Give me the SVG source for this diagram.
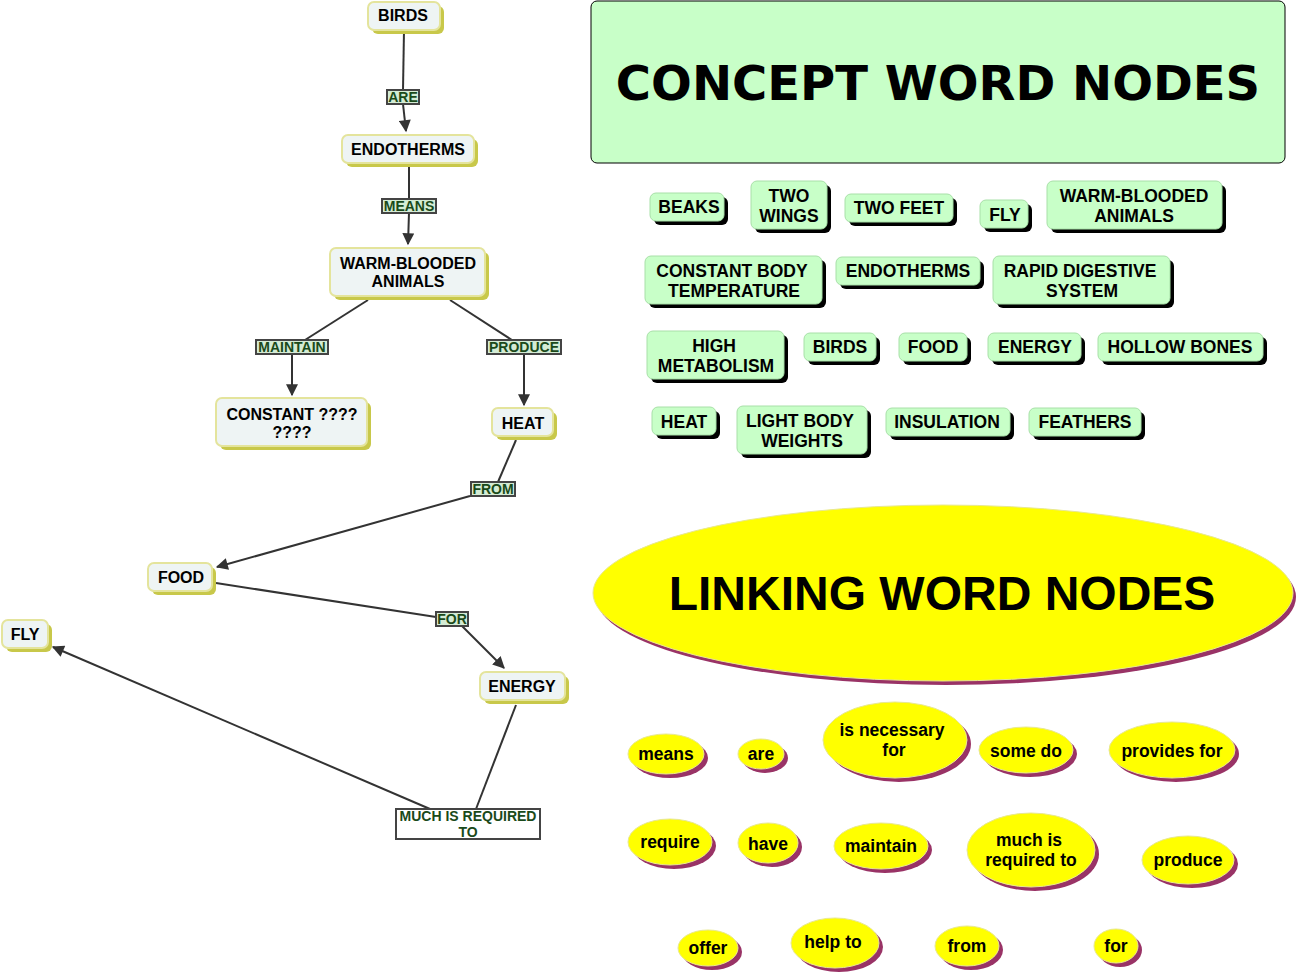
<svg xmlns="http://www.w3.org/2000/svg" width="1296" height="973" viewBox="0 0 1296 973">
<style>
.t{font-family:"Liberation Sans",Arial,sans-serif;font-weight:bold;fill:#000;text-anchor:middle}
.c{fill:#eef4f4;stroke:#e4e49c;stroke-width:2}
.cs{fill:#c8c84a}
.g{fill:#c8ffc8;stroke:#a8e0a8;stroke-width:1}
.gs{fill:#000}
.e{fill:#ffff00;stroke:#e8e890;stroke-width:1}
.es{fill:#993366}
.lb{fill:#d4ecd4;stroke:#444;stroke-width:2}
.lt{font-family:"Liberation Sans",Arial,sans-serif;font-weight:bold;fill:#1a4a1a;text-anchor:middle;font-size:14px}
.ln{stroke:#333;stroke-width:2;fill:none}
</style>
<defs>
<marker id="ar" viewBox="0 0 10 10" refX="9" refY="5" markerWidth="13" markerHeight="12" orient="auto" markerUnits="userSpaceOnUse">
<path d="M0,0 L10,5 L0,10 z" fill="#333"/>
</marker>
</defs>
<rect width="1296" height="973" fill="#fff"/>

<g id="connectors">
<line class="ln" x1="404" y1="30" x2="403" y2="90"/>
<line class="ln" x1="403" y1="104" x2="406" y2="131" marker-end="url(#ar)"/>
<line class="ln" x1="409" y1="163" x2="409" y2="199"/>
<line class="ln" x1="409" y1="213" x2="408" y2="244" marker-end="url(#ar)"/>
<line class="ln" x1="368" y1="300" x2="305" y2="340"/>
<line class="ln" x1="292" y1="354" x2="292" y2="395" marker-end="url(#ar)"/>
<line class="ln" x1="450" y1="300" x2="512" y2="340"/>
<line class="ln" x1="524" y1="354" x2="524" y2="405" marker-end="url(#ar)"/>
<line class="ln" x1="516" y1="440" x2="498" y2="482"/>
<line class="ln" x1="470" y1="496" x2="217" y2="567" marker-end="url(#ar)"/>
<line class="ln" x1="216" y1="583" x2="436" y2="617"/>
<line class="ln" x1="462" y1="626" x2="504" y2="668" marker-end="url(#ar)"/>
<line class="ln" x1="516" y1="705" x2="476" y2="809"/>
<line class="ln" x1="430" y1="809" x2="53" y2="647" marker-end="url(#ar)"/>
</g>

<g id="lbl-are"><rect class="lb" x="387" y="90" width="32" height="14"/><text class="lt" x="403" y="102">ARE</text></g>
<g id="lbl-means"><rect class="lb" x="382" y="199" width="54" height="14"/><text class="lt" x="409" y="211">MEANS</text></g>
<g id="lbl-maintain"><rect class="lb" x="256" y="340" width="72" height="14"/><text class="lt" x="292" y="352">MAINTAIN</text></g>
<g id="lbl-produce"><rect class="lb" x="487" y="340" width="74" height="14"/><text class="lt" x="524" y="352">PRODUCE</text></g>
<g id="lbl-from"><rect class="lb" x="471" y="482" width="44" height="14"/><text class="lt" x="493" y="494">FROM</text></g>
<g id="lbl-for"><rect class="lb" x="436" y="612" width="32" height="14"/><text class="lt" x="452" y="624">FOR</text></g>
<g id="lbl-much"><rect x="396" y="809" width="144" height="30" fill="#fff" stroke="#444" stroke-width="2"/><text class="lt" x="468" y="821">MUCH IS REQUIRED</text><text class="lt" x="468" y="837">TO</text></g>

<g id="n-birds"><rect class="cs" x="372" y="6" width="72" height="28" rx="6"/><rect class="c" x="368" y="2" width="72" height="28" rx="6"/><text class="t" x="403" y="21" font-size="16">BIRDS</text></g>
<g id="n-endotherms"><rect class="cs" x="346" y="139" width="132" height="28" rx="6"/><rect class="c" x="342" y="135" width="132" height="28" rx="6"/><text class="t" x="408" y="155" font-size="16">ENDOTHERMS</text></g>
<g id="n-wba"><rect class="cs" x="334" y="252" width="155" height="48" rx="6"/><rect class="c" x="330" y="248" width="155" height="48" rx="6"/><text class="t" x="408" y="269" font-size="16">WARM-BLOODED</text><text class="t" x="408" y="287" font-size="16">ANIMALS</text></g>
<g id="n-constant"><rect class="cs" x="220" y="402" width="151" height="48" rx="6"/><rect class="c" x="216" y="398" width="151" height="48" rx="6"/><text class="t" x="292" y="420" font-size="16">CONSTANT ????</text><text class="t" x="292" y="438" font-size="16">????</text></g>
<g id="n-heat"><rect class="cs" x="496" y="412" width="61" height="28" rx="6"/><rect class="c" x="492" y="408" width="61" height="28" rx="6"/><text class="t" x="523" y="429" font-size="16">HEAT</text></g>
<g id="n-food"><rect class="cs" x="152" y="567" width="64" height="28" rx="6"/><rect class="c" x="148" y="563" width="64" height="28" rx="6"/><text class="t" x="181" y="583" font-size="16">FOOD</text></g>
<g id="n-fly"><rect class="cs" x="6" y="624" width="46" height="28" rx="6"/><rect class="c" x="2" y="620" width="46" height="28" rx="6"/><text class="t" x="25" y="640" font-size="16">FLY</text></g>
<g id="n-energy"><rect class="cs" x="484" y="676" width="85" height="28" rx="6"/><rect class="c" x="480" y="672" width="85" height="28" rx="6"/><text class="t" x="522" y="692" font-size="16">ENERGY</text></g>

<g id="title-concept"><rect x="591" y="1" width="694" height="162" rx="6" fill="#c8ffc8" stroke="#000" stroke-width="1"/><text x="938" y="100" font-family="'DejaVu Sans',Verdana,sans-serif" font-weight="bold" font-size="48" text-anchor="middle">CONCEPT WORD NODES</text></g>

<g id="g-beaks"><rect class="gs" x="654" y="197" width="74" height="28" rx="6"/><rect class="g" x="650" y="193" width="74" height="28" rx="6"/><text class="t" x="689" y="213" font-size="17.5">BEAKS</text></g>
<g id="g-twowings"><rect class="gs" x="755" y="185" width="76" height="48" rx="6"/><rect class="g" x="751" y="181" width="76" height="48" rx="6"/><text class="t" x="789" y="202" font-size="17.5">TWO</text><text class="t" x="789" y="222" font-size="17.5">WINGS</text></g>
<g id="g-twofeet"><rect class="gs" x="849" y="198" width="108" height="28" rx="6"/><rect class="g" x="845" y="194" width="108" height="28" rx="6"/><text class="t" x="899" y="214" font-size="17.5">TWO FEET</text></g>
<g id="g-fly"><rect class="gs" x="984" y="204" width="48" height="28" rx="6"/><rect class="g" x="980" y="200" width="48" height="28" rx="6"/><text class="t" x="1005" y="221" font-size="17.5">FLY</text></g>
<g id="g-wba"><rect class="gs" x="1051" y="185" width="175" height="48" rx="6"/><rect class="g" x="1047" y="181" width="175" height="48" rx="6"/><text class="t" x="1134" y="202" font-size="17.5">WARM-BLOODED</text><text class="t" x="1134" y="222" font-size="17.5">ANIMALS</text></g>

<g id="g-cbt"><rect class="gs" x="649" y="260" width="177" height="48" rx="6"/><rect class="g" x="645" y="256" width="177" height="48" rx="6"/><text class="t" x="732" y="277" font-size="17.5">CONSTANT BODY</text><text class="t" x="734" y="297" font-size="17.5">TEMPERATURE</text></g>
<g id="g-endo"><rect class="gs" x="840" y="261" width="144" height="28" rx="6"/><rect class="g" x="836" y="257" width="144" height="28" rx="6"/><text class="t" x="908" y="277" font-size="17.5">ENDOTHERMS</text></g>
<g id="g-rds"><rect class="gs" x="997" y="260" width="177" height="48" rx="6"/><rect class="g" x="993" y="256" width="177" height="48" rx="6"/><text class="t" x="1080" y="277" font-size="17.5">RAPID DIGESTIVE</text><text class="t" x="1082" y="297" font-size="17.5">SYSTEM</text></g>

<g id="g-hm"><rect class="gs" x="651" y="335" width="137" height="48" rx="6"/><rect class="g" x="647" y="331" width="137" height="48" rx="6"/><text class="t" x="714" y="352" font-size="17.5">HIGH</text><text class="t" x="716" y="372" font-size="17.5">METABOLISM</text></g>
<g id="g-birds"><rect class="gs" x="808" y="337" width="72" height="28" rx="6"/><rect class="g" x="804" y="333" width="72" height="28" rx="6"/><text class="t" x="840" y="353" font-size="17.5">BIRDS</text></g>
<g id="g-food"><rect class="gs" x="903" y="337" width="68" height="28" rx="6"/><rect class="g" x="899" y="333" width="68" height="28" rx="6"/><text class="t" x="933" y="353" font-size="17.5">FOOD</text></g>
<g id="g-energy"><rect class="gs" x="992" y="337" width="93" height="28" rx="6"/><rect class="g" x="988" y="333" width="93" height="28" rx="6"/><text class="t" x="1035" y="353" font-size="17.5">ENERGY</text></g>
<g id="g-hb"><rect class="gs" x="1102" y="337" width="165" height="28" rx="6"/><rect class="g" x="1098" y="333" width="165" height="28" rx="6"/><text class="t" x="1180" y="353" font-size="17.5">HOLLOW BONES</text></g>

<g id="g-heat"><rect class="gs" x="656" y="411" width="64" height="28" rx="6"/><rect class="g" x="652" y="407" width="64" height="28" rx="6"/><text class="t" x="684" y="428" font-size="17.5">HEAT</text></g>
<g id="g-lbw"><rect class="gs" x="741" y="410" width="130" height="48" rx="6"/><rect class="g" x="737" y="406" width="130" height="48" rx="6"/><text class="t" x="800" y="427" font-size="17.5">LIGHT BODY</text><text class="t" x="802" y="447" font-size="17.5">WEIGHTS</text></g>
<g id="g-ins"><rect class="gs" x="890" y="412" width="124" height="28" rx="6"/><rect class="g" x="886" y="408" width="124" height="28" rx="6"/><text class="t" x="947" y="428" font-size="17.5">INSULATION</text></g>
<g id="g-feathers"><rect class="gs" x="1033" y="412" width="112" height="28" rx="6"/><rect class="g" x="1029" y="408" width="112" height="28" rx="6"/><text class="t" x="1085" y="428" font-size="17.5">FEATHERS</text></g>

<g id="title-linking"><ellipse class="es" cx="946" cy="597" rx="350" ry="88"/><ellipse class="e" cx="943" cy="593" rx="350" ry="88"/><text class="t" x="942" y="610" font-size="48">LINKING WORD NODES</text></g>

<g id="e-means"><ellipse class="es" cx="670" cy="758" rx="38" ry="20"/><ellipse class="e" cx="666" cy="754" rx="38" ry="20"/><text class="t" x="666" y="760" font-size="17.5">means</text></g>
<g id="e-are"><ellipse class="es" cx="765" cy="758" rx="23" ry="15"/><ellipse class="e" cx="761" cy="754" rx="23" ry="15"/><text class="t" x="761" y="760" font-size="17.5">are</text></g>
<g id="e-isnec"><ellipse class="es" cx="899" cy="744" rx="72" ry="38"/><ellipse class="e" cx="895" cy="740" rx="72" ry="38"/><text class="t" x="892" y="736" font-size="17.5">is necessary</text><text class="t" x="894" y="756" font-size="17.5">for</text></g>
<g id="e-somedo"><ellipse class="es" cx="1030" cy="754" rx="47" ry="23"/><ellipse class="e" cx="1026" cy="750" rx="47" ry="23"/><text class="t" x="1026" y="757" font-size="17.5">some do</text></g>
<g id="e-provides"><ellipse class="es" cx="1176" cy="754" rx="63" ry="28"/><ellipse class="e" cx="1172" cy="750" rx="63" ry="28"/><text class="t" x="1172" y="757" font-size="17.5">provides for</text></g>

<g id="e-require"><ellipse class="es" cx="674" cy="846" rx="42" ry="23"/><ellipse class="e" cx="670" cy="842" rx="42" ry="23"/><text class="t" x="670" y="848" font-size="17.5">require</text></g>
<g id="e-have"><ellipse class="es" cx="772" cy="847" rx="30" ry="20"/><ellipse class="e" cx="768" cy="843" rx="30" ry="20"/><text class="t" x="768" y="850" font-size="17.5">have</text></g>
<g id="e-maintain"><ellipse class="es" cx="885" cy="850" rx="47" ry="23"/><ellipse class="e" cx="881" cy="846" rx="47" ry="23"/><text class="t" x="881" y="852" font-size="17.5">maintain</text></g>
<g id="e-much"><ellipse class="es" cx="1035" cy="854" rx="64" ry="37"/><ellipse class="e" cx="1031" cy="850" rx="64" ry="37"/><text class="t" x="1029" y="846" font-size="17.5">much is</text><text class="t" x="1031" y="866" font-size="17.5">required to</text></g>
<g id="e-produce"><ellipse class="es" cx="1192" cy="864" rx="46" ry="24"/><ellipse class="e" cx="1188" cy="860" rx="46" ry="24"/><text class="t" x="1188" y="866" font-size="17.5">produce</text></g>

<g id="e-offer"><ellipse class="es" cx="712" cy="952" rx="30" ry="18"/><ellipse class="e" cx="708" cy="948" rx="30" ry="18"/><text class="t" x="708" y="954" font-size="17.5">offer</text></g>
<g id="e-helpto"><ellipse class="es" cx="839" cy="947" rx="44" ry="25"/><ellipse class="e" cx="835" cy="943" rx="44" ry="25"/><text class="t" x="833" y="948" font-size="17.5">help to</text></g>
<g id="e-from"><ellipse class="es" cx="971" cy="950" rx="32" ry="20"/><ellipse class="e" cx="967" cy="946" rx="32" ry="20"/><text class="t" x="967" y="952" font-size="17.5">from</text></g>
<g id="e-for"><ellipse class="es" cx="1120" cy="950" rx="22" ry="17"/><ellipse class="e" cx="1116" cy="946" rx="22" ry="17"/><text class="t" x="1116" y="952" font-size="17.5">for</text></g>
</svg>
